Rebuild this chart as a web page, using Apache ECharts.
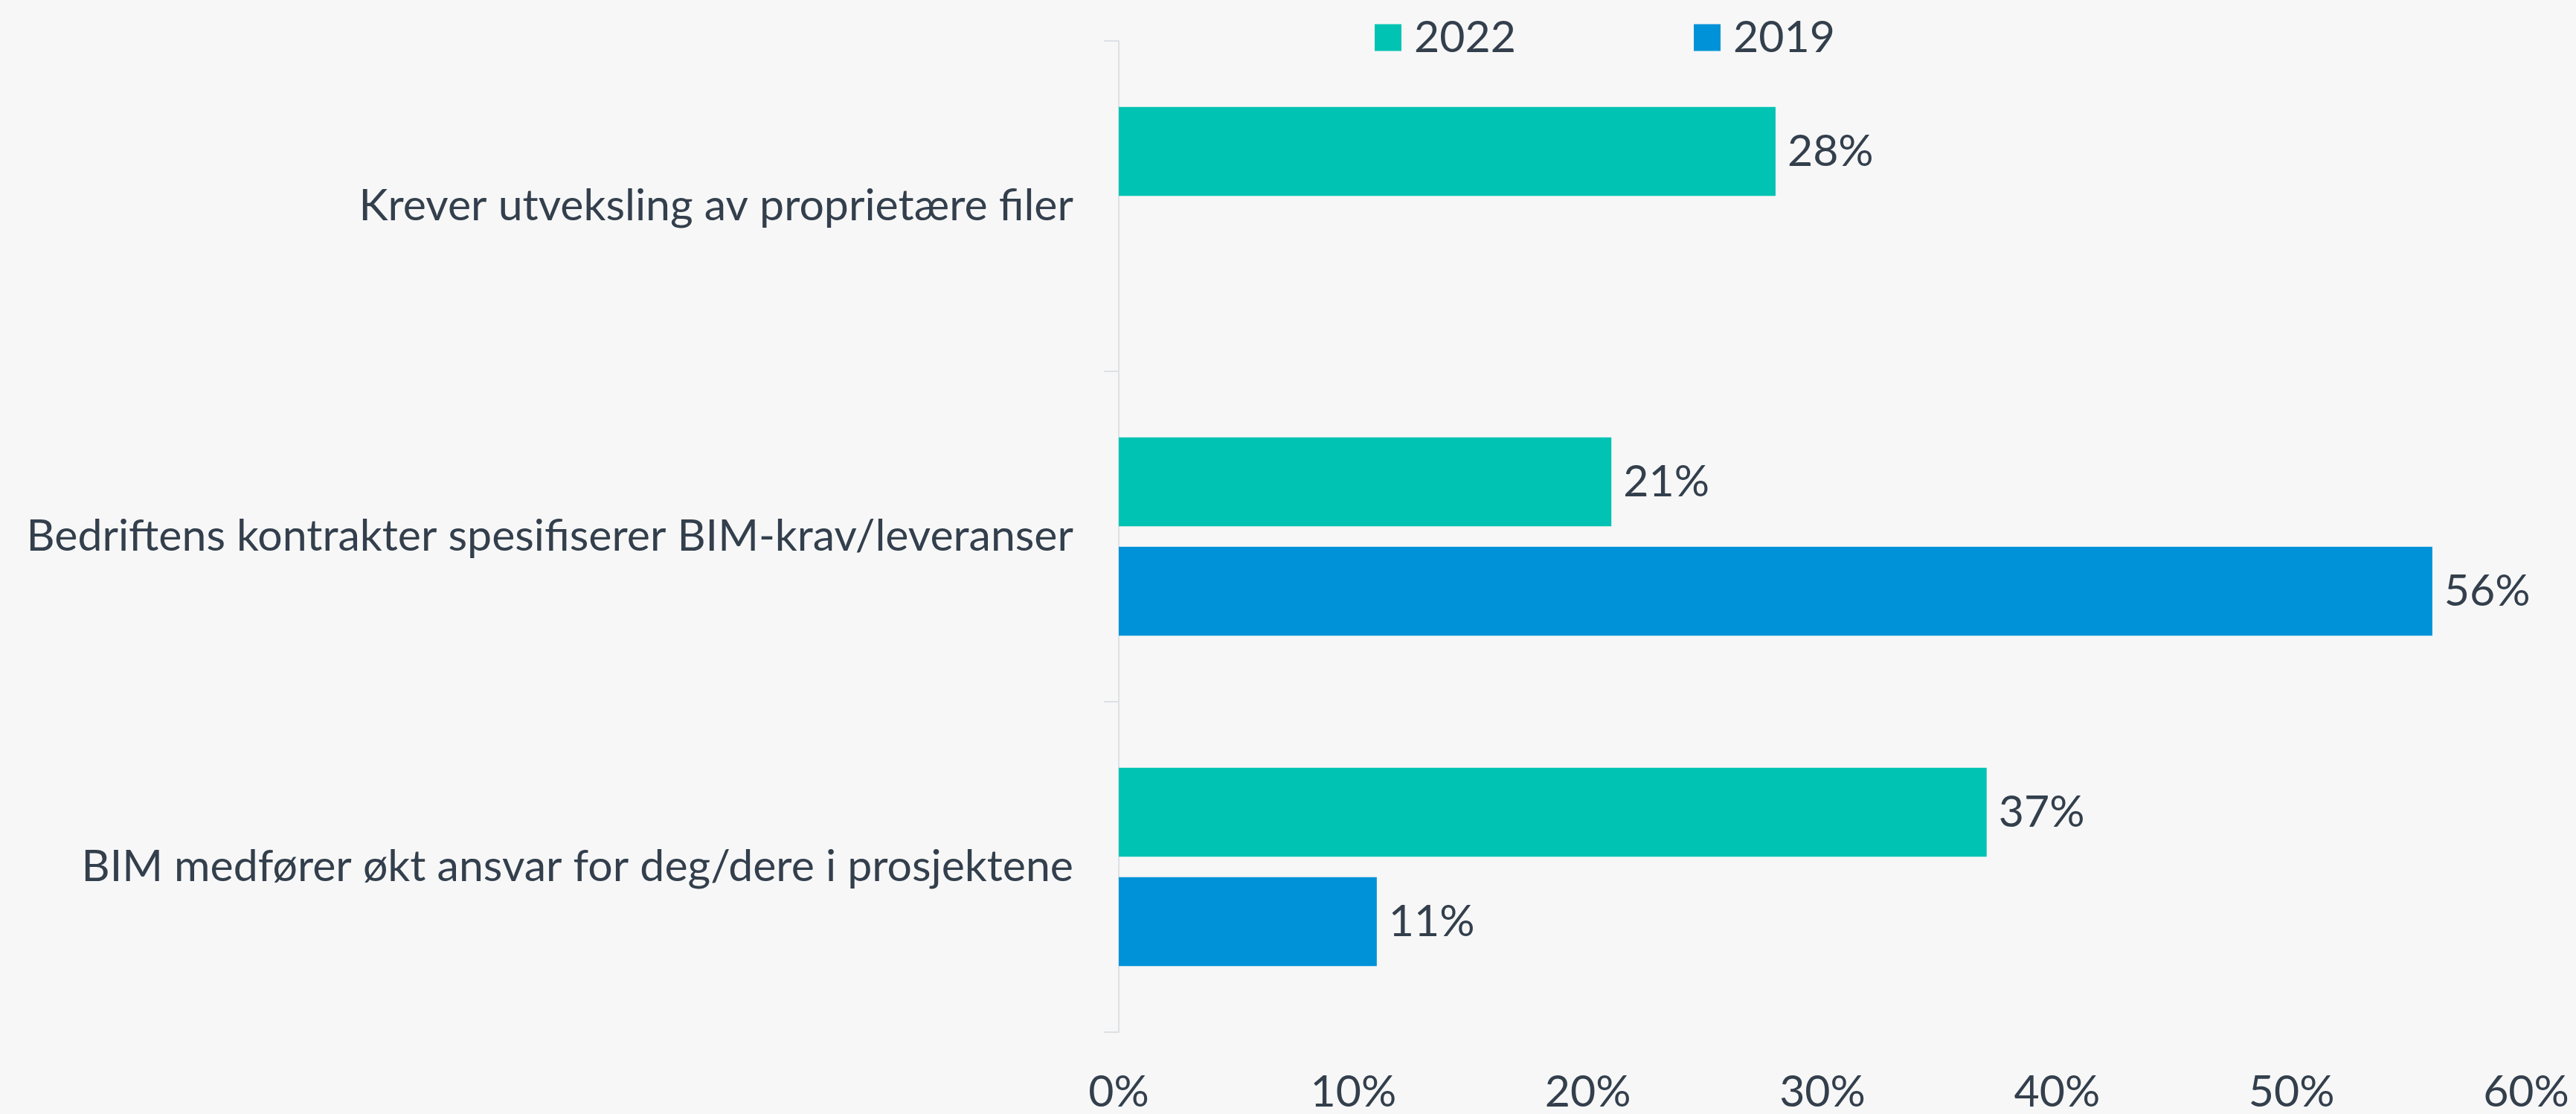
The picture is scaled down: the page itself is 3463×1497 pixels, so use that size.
<!DOCTYPE html>
<html>
<head>
<meta charset="utf-8">
<script src="https://cdn.jsdelivr.net/npm/echarts@6/dist/echarts.min.js"></script>
<style>
  html, body { margin: 0; padding: 0; background: #f7f7f7; }
  #myChart { width: 3463px; height: 1497px; }
</style>
</head>
<body>
<div id="myChart"></div>
<script>
// kategorier (ovenfra og ned)
var categories = [
  'Krever utveksling av proprietære filer',
  'Bedriftens kontrakter spesifiserer BIM-krav/leveranser',
  'BIM medfører økt ansvar for deg/dere i prosjektene'
];
var values2022 = [28, 21, 37];
var values2019 = [null, 56, 11];
var xTicks = [0, 10, 20, 30, 40, 50, 60];

var textColor = '#333f4c';
var fontFamily = 'Lato';
var fontSize = 59;

var myChart = echarts.init(document.getElementById('myChart'));

var option = {
  backgroundColor: '#f7f7f7',
  textStyle: { fontFamily: fontFamily },
  legend: [
    {
      data: ['2022'],
      left: 1843, top: 16,
      icon: 'rect', itemWidth: 36, itemHeight: 36,
      textStyle: { color: textColor, fontSize: fontSize, fontFamily: fontFamily, padding: [0, 0, 0, 12] }
    },
    {
      data: ['2019'],
      left: 2272, top: 16,
      icon: 'rect', itemWidth: 36, itemHeight: 36,
      textStyle: { color: textColor, fontSize: fontSize, fontFamily: fontFamily, padding: [0, 0, 0, 12] }
    }
  ],
  grid: {
    left: 1504,
    right: 3463 - 3396,
    top: 55,
    bottom: 1497 - 1387,
    containLabel: false
  },
  xAxis: {
    type: 'value',
    min: xTicks[0],
    max: xTicks[xTicks.length - 1],
    interval: 10,
    axisLine: { show: false },
    axisTick: { show: false },
    splitLine: { show: false },
    axisLabel: {
      formatter: '{value}%',
      color: textColor,
      fontSize: fontSize,
      fontFamily: fontFamily,
      margin: 51
    }
  },
  yAxis: {
    type: 'category',
    inverse: true,
    data: categories,
    axisLine: { show: true, lineStyle: { color: '#dde0e4', width: 2 } },
    axisTick: { show: true, length: 20, lineStyle: { color: '#dde0e4', width: 2 } },
    axisLabel: {
      color: textColor,
      fontSize: fontSize,
      fontFamily: fontFamily,
      margin: 61
    }
  },
  series: [
    {
      name: '2022',
      type: 'bar',
      data: values2022,
      barCategoryGap: '40%',
      barGap: '23%',
      itemStyle: { color: '#00c3b3' },
      label: {
        show: true,
        position: 'right',
        distance: 16,
        formatter: '{c}%',
        color: textColor,
        fontSize: fontSize,
        fontFamily: fontFamily
      }
    },
    {
      name: '2019',
      type: 'bar',
      data: values2019,
      barCategoryGap: '40%',
      barGap: '23%',
      itemStyle: { color: '#0092d8' },
      label: {
        show: true,
        position: 'right',
        distance: 16,
        formatter: '{c}%',
        color: textColor,
        fontSize: fontSize,
        fontFamily: fontFamily
      }
    }
  ]
};

myChart.setOption(option);
window.addEventListener('resize', myChart.resize);
</script>
</body>
</html>
